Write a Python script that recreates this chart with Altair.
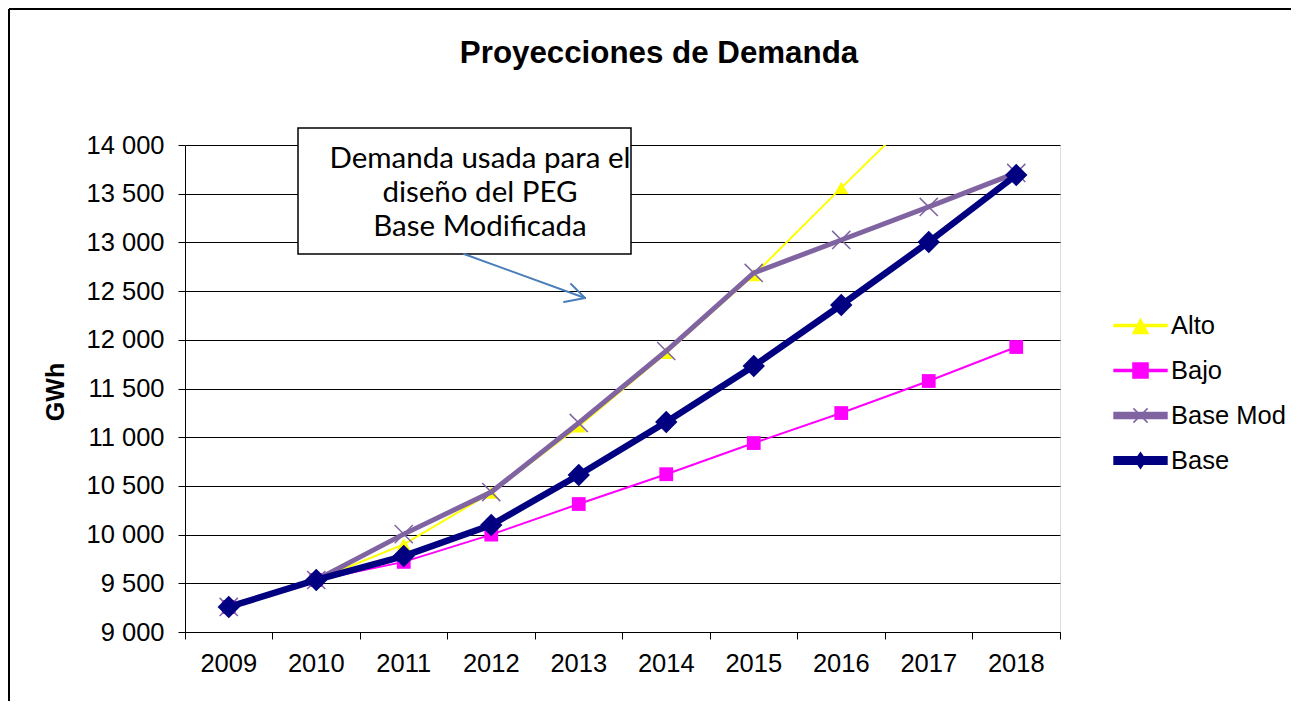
import altair as alt
import pandas as pd

years = ['2009', '2010', '2011', '2012', '2013', '2014', '2015', '2016', '2017', '2018']
alto = [9257, 9534, 9900, 10430, 11110, 11865, 12665, 13560, 14440, 15320]
bajo = [9257, 9534, 9720, 10000, 10314, 10620, 10940, 11248, 11577, 11926]
base_mod = [9257, 9534, 10005, 10437, 11146, 11885, 12686, 13025, 13364, 13713]
base = [9257, 9534, 9780, 10099, 10612, 11156, 11731, 12357, 13004, 13692]

series_names = ['Alto', 'Bajo', 'Base Mod', 'Base']
series_colors = ['#FFFF00', '#FF00FF', '#8064A2', '#000080']
y_ticks = [9000, 9500, 10000, 10500, 11000, 11500, 12000, 12500, 13000, 13500, 14000]

title_text = 'Proyecciones de Demanda'
y_title = 'GWh'
note_text = 'Demanda usada para el\ndiseño del PEG\nBase Modificada'

rows = []
for name, vals in zip(series_names, [alto, bajo, base_mod, base]):
    for yr, v in zip(years, vals):
        rows.append({'year': yr, 'series': name, 'value': v})
df = pd.DataFrame(rows)

FONT = 'Liberation Sans'

x_enc = alt.X('year:O', scale=alt.Scale(type='band', domain=years, paddingInner=0, paddingOuter=0),
              axis=alt.Axis(title=None, labelAngle=0, bandPosition=1, tickExtra=True, grid=False,
                            labelFont=FONT, labelFontSize=25.5, labelColor='black', labelPadding=12,
                            tickColor='black', tickSize=7, domainColor='black'))
y_enc = alt.Y('value:Q', scale=alt.Scale(domain=[9000, 14000], nice=False, zero=False),
              axis=alt.Axis(title=None, values=y_ticks, grid=True, gridColor='black', gridWidth=1,
                            gridOpacity=1, labelExpr="replace(format(datum.value, ','), ',', ' ')",
                            labelFont=FONT, labelFontSize=25.5, labelColor='black', labelPadding=14,
                            tickColor='black', tickSize=7, domainColor='black'))

line_w = {'Alto': 2, 'Bajo': 2, 'Base Mod': 5, 'Base': 6.5}
marker = {
    'Alto': dict(shape='triangle-up', size=200, filled=True, strokeWidth=0),
    'Bajo': dict(shape='square', size=190, filled=True, strokeWidth=0),
    'Base Mod': dict(shape='M-1,-1L1,1M-1,1L1,-1', size=330, filled=False, strokeWidth=1.5),
    'Base': dict(shape='diamond', size=500, filled=True, strokeWidth=0),
}

base_chart = alt.Chart(df)
one = pd.DataFrame({'k': [0]})

layers = []
# outer frame (top and left edges visible in the picture)
for (xa, ya, xb, yb) in [(-176, -136, 1106, -136), (-176, -136, -176, 556)]:
    layers.append(alt.Chart(one).mark_rule(color='black', strokeWidth=2).encode(
        x=alt.value(xa), y=alt.value(ya), x2=alt.value(xb), y2=alt.value(yb)))

for name, col in zip(series_names, series_colors):
    sub = base_chart.transform_filter(alt.datum.series == name)
    layers.append(sub.mark_line(color=col, strokeWidth=line_w[name], clip=True).encode(x=x_enc, y=y_enc))
    layers.append(sub.mark_point(color=col, clip=True, opacity=1, **marker[name]).encode(x=x_enc, y=y_enc))

# legend-only layer
legend_shapes = [
    'M-1.23,-0.047H1.23V0.047H-1.23Z M-0.35,0.37L0,-0.3L0.35,0.37Z',
    'M-1.23,-0.047H1.23V0.047H-1.23Z M-0.35,-0.35H0.35V0.35H-0.35Z',
    'M-1.23,-0.14H1.23V0.14H-1.23Z M-0.33,-0.33L0.33,0.33 M-0.33,0.33L0.33,-0.33',
    'M-1.23,-0.17H1.23V0.17H-1.23Z M-0.25,0L0,-0.36L0.25,0L0,0.36Z',
]
leg = alt.Legend(title=None, orient='none', legendX=933, legendY=158, symbolSize=1849,
                 labelFont=FONT, labelFontSize=25.5, labelColor='black', rowPadding=9,
                 labelOffset=8, symbolStrokeWidth=1.5, symbolOpacity=1)
layers.append(base_chart.transform_filter('false').mark_point(filled=True, strokeWidth=1.5, opacity=1).encode(
    fill=alt.Fill('series:N', scale=alt.Scale(domain=series_names, range=series_colors), legend=leg),
    stroke=alt.Stroke('series:N', scale=alt.Scale(domain=series_names, range=series_colors), legend=leg),
    shape=alt.Shape('series:N', scale=alt.Scale(domain=series_names, range=legend_shapes), legend=leg),
))

# annotation box
layers.append(alt.Chart(one).mark_rect(fill='white', stroke='black', strokeWidth=1.5).encode(
    x=alt.value(113), x2=alt.value(446), y=alt.value(-17), y2=alt.value(109)))
layers.append(alt.Chart(one).mark_text(text=note_text, lineBreak='\n', font='Lato', fontSize=29.5,
                                       lineHeight=34, align='center', baseline='middle', color='black').encode(
    x=alt.value(295), y=alt.value(14)))
# arrow
for (xa, ya, xb, yb) in [(279, 109, 400, 153), (386, 139, 400, 153), (379, 157, 400, 153)]:
    layers.append(alt.Chart(one).mark_rule(color='#4A7EBB', strokeWidth=2, strokeCap='round').encode(
        x=alt.value(xa), y=alt.value(ya), x2=alt.value(xb), y2=alt.value(yb)))
# title and y title
layers.append(alt.Chart(one).mark_text(text=title_text, font=FONT, fontSize=31.3, fontWeight='bold',
                                       align='center', baseline='alphabetic', color='black').encode(
    x=alt.value(474), y=alt.value(-82)))
layers.append(alt.Chart(one).mark_text(text=y_title, font=FONT, fontSize=25, fontWeight='bold', angle=270,
                                       align='center', baseline='middle', color='black').encode(
    x=alt.value(-129), y=alt.value(247)))

chart = alt.layer(*layers).properties(
    width=875, height=487,
    autosize=alt.AutoSizeParams(type='none'),
    padding={'left': 177, 'top': 137, 'right': 233, 'bottom': 70},
).configure_view(fill='#C0C0C0', stroke='#808080', strokeWidth=1).configure(background='white')

chart.save('out.html', embed_options={'renderer': 'svg', 'actions': False})
